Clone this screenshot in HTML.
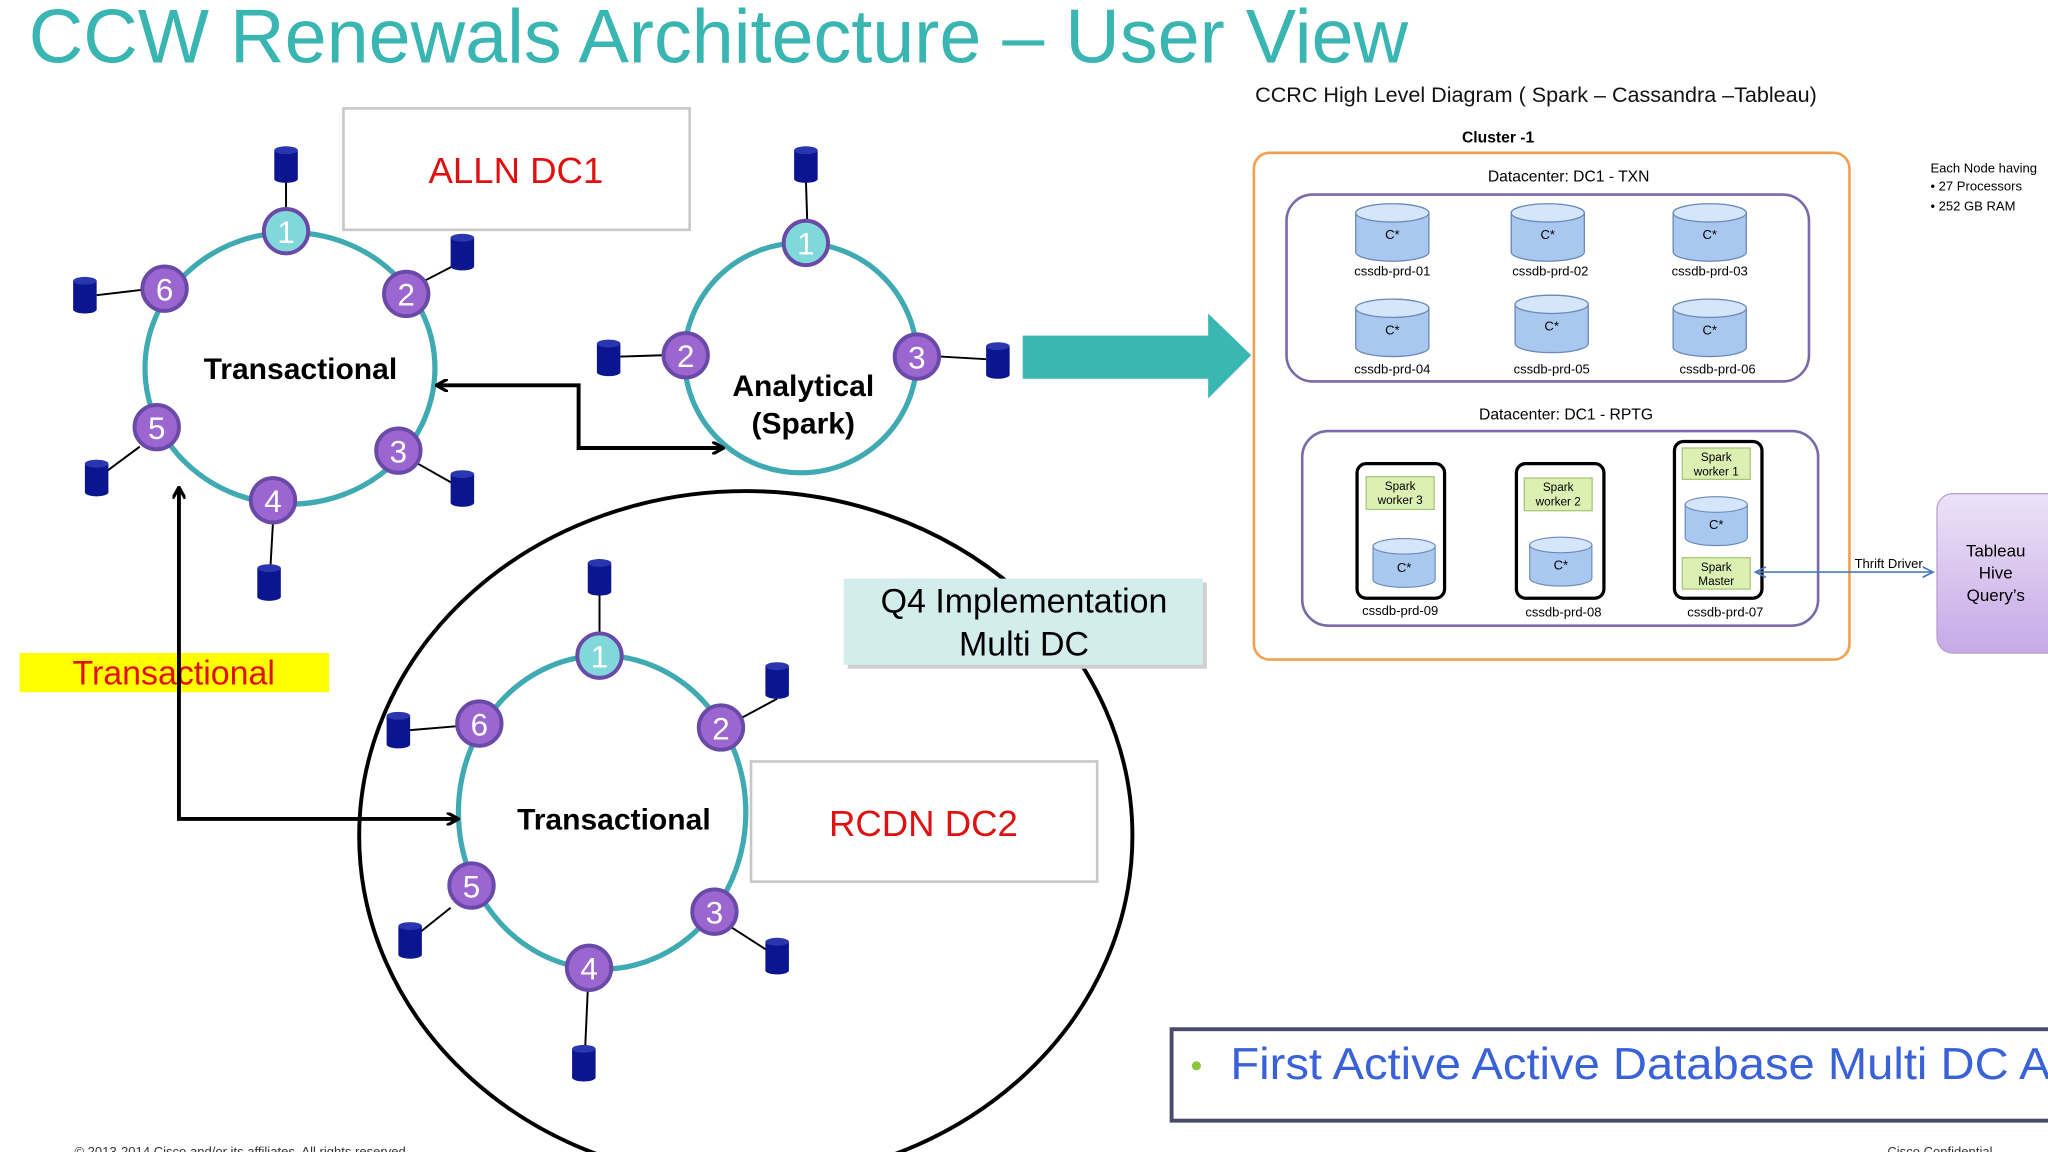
<!DOCTYPE html>
<html><head><meta charset="utf-8"><style>
html,body{margin:0;padding:0;background:#fff;width:2048px;height:1152px;overflow:hidden}
svg{display:block}
text{font-family:"Liberation Sans",sans-serif}
</style></head><body>
<svg width="2048" height="1152" viewBox="0 0 1568 882" xmlns="http://www.w3.org/2000/svg">
<defs>
<g id="cyl"><rect x="-9" y="-11" width="18" height="22" fill="#0c1590"/><ellipse cx="0" cy="11" rx="9" ry="3" fill="#0c1590"/><ellipse cx="0" cy="-11" rx="9" ry="3" fill="#2a36b0"/></g>
<g id="bc"><path d="M-28,-15 L-28,15 A28,7 0 0 0 28,15 L28,-15 Z" fill="#a9c8f0" stroke="#6a88b8"/><ellipse cx="0" cy="-15" rx="28" ry="7" fill="#d6e6fa" stroke="#6a88b8"/></g>
<linearGradient id="tab" x1="0" y1="0" x2="0" y2="1"><stop offset="0" stop-color="#ece3f7"/><stop offset="1" stop-color="#c6a9e6"/></linearGradient>
<marker id="ah" markerWidth="10" markerHeight="10" refX="8" refY="5" orient="auto-start-reverse" markerUnits="userSpaceOnUse"><path d="M0,0 L9,5 L0,10" fill="none" stroke="#000" stroke-width="2.5"/></marker>
<marker id="bh" markerWidth="10" markerHeight="10" refX="8" refY="5" orient="auto-start-reverse" markerUnits="userSpaceOnUse"><path d="M0,1 L8,5 L0,9" fill="none" stroke="#4a7ac0" stroke-width="1.3"/></marker>
</defs>

<text x="22" y="48" font-size="58" fill="#3ab6b2" textLength="1056" lengthAdjust="spacingAndGlyphs">CCW Renewals Architecture – User View</text>

<!-- Ring 1 -->
<ellipse cx="222" cy="282" rx="111" ry="104" fill="none" stroke="#40aab2" stroke-width="4"/>
<g stroke="#000" stroke-width="1.5">
<line x1="219" y1="137" x2="219" y2="160"/><line x1="354" y1="200" x2="325" y2="215"/>
<line x1="74" y1="226" x2="108" y2="222"/><line x1="80" y1="362" x2="107" y2="342"/>
<line x1="207" y1="435" x2="209" y2="400"/><line x1="350" y1="372" x2="320" y2="355"/>
</g>
<use href="#cyl" x="219" y="126"/><use href="#cyl" x="354" y="193"/><use href="#cyl" x="65" y="226"/>
<use href="#cyl" x="74" y="366"/><use href="#cyl" x="206" y="446"/><use href="#cyl" x="354" y="374"/>
<text x="230" y="290" font-size="23" font-weight="bold" text-anchor="middle">Transactional</text>

<rect x="263" y="83" width="265" height="93" fill="#fff" stroke="#c8c8c8" stroke-width="2"/>
<text x="395" y="140" font-size="28" fill="#e01010" text-anchor="middle">ALLN DC1</text>

<!-- Ring 2 -->
<ellipse cx="613" cy="274" rx="89" ry="88" fill="none" stroke="#40aab2" stroke-width="4"/>
<g stroke="#000" stroke-width="1.5"><line x1="617" y1="137" x2="618" y2="168"/><line x1="475" y1="273" x2="507" y2="272"/><line x1="755" y1="275" x2="720" y2="273"/></g>
<use href="#cyl" x="617" y="126"/><use href="#cyl" x="466" y="274"/><use href="#cyl" x="764" y="276"/>
<text x="615" y="303" font-size="23" font-weight="bold" text-anchor="middle">Analytical</text>
<text x="615" y="332" font-size="23" font-weight="bold" text-anchor="middle">(Spark)</text>

<path d="M783,257 L925,257 L925,240 L958,272 L925,305 L925,290 L783,290 Z" fill="#3bb7b2"/>

<polyline points="335,295 443,295 443,343 553,343" fill="none" stroke="#000" stroke-width="3" marker-start="url(#ah)" marker-end="url(#ah)"/>

<ellipse cx="571" cy="640" rx="296" ry="264" fill="none" stroke="#000" stroke-width="3"/>

<!-- Ring 3 -->
<ellipse cx="461" cy="622" rx="110" ry="120" fill="none" stroke="#40aab2" stroke-width="4"/>
<g stroke="#000" stroke-width="1.5">
<line x1="459" y1="453" x2="459" y2="485"/><line x1="595" y1="535" x2="567" y2="550"/>
<line x1="314" y1="559" x2="350" y2="556"/><line x1="320" y1="715" x2="345" y2="695"/>
<line x1="448" y1="803" x2="450" y2="758"/><line x1="588" y1="728" x2="560" y2="710"/>
</g>
<use href="#cyl" x="459" y="442"/><use href="#cyl" x="595" y="521"/><use href="#cyl" x="305" y="559"/>
<use href="#cyl" x="314" y="720"/><use href="#cyl" x="447" y="814"/><use href="#cyl" x="595" y="732"/>
<text x="470" y="635" font-size="23" font-weight="bold" text-anchor="middle">Transactional</text>

<g font-size="24" fill="#fff" text-anchor="middle">
<g stroke="#6a4aa8" stroke-width="3" fill="#9c66d0">
<circle cx="311" cy="225" r="17"/><circle cx="305" cy="345" r="17"/><circle cx="209" cy="383" r="17"/><circle cx="120" cy="327" r="17"/><circle cx="126" cy="221" r="17"/>
<circle cx="525" cy="272" r="17"/><circle cx="702" cy="273" r="17"/>
<circle cx="552" cy="557" r="17"/><circle cx="547" cy="698" r="17"/><circle cx="451" cy="741" r="17"/><circle cx="361" cy="678" r="17"/><circle cx="367" cy="554" r="17"/>
</g>
<g stroke="#6a4aa8" stroke-width="3" fill="#80d8da">
<circle cx="219" cy="177" r="17"/><circle cx="617" cy="186" r="17"/><circle cx="459" cy="502" r="17"/>
</g>
<text x="219" y="186">1</text><text x="311" y="234">2</text><text x="305" y="354">3</text><text x="209" y="392">4</text><text x="120" y="336">5</text><text x="126" y="230">6</text>
<text x="617" y="195">1</text><text x="525" y="281">2</text><text x="702" y="282">3</text>
<text x="459" y="511">1</text><text x="552" y="566">2</text><text x="547" y="707">3</text><text x="451" y="750">4</text><text x="361" y="687">5</text><text x="367" y="563">6</text>
</g>

<rect x="575" y="583" width="265" height="92" fill="#fff" stroke="#c8c8c8" stroke-width="2"/>
<text x="707" y="640" font-size="28" fill="#e01010" text-anchor="middle">RCDN DC2</text>

<rect x="649" y="446" width="275" height="66" fill="#cfcfcf"/>
<rect x="646" y="443" width="275" height="66" fill="#d3ecec"/>
<text x="784" y="469" font-size="26" text-anchor="middle">Q4 Implementation</text>
<text x="784" y="502" font-size="26" text-anchor="middle">Multi DC</text>

<rect x="15" y="500" width="237" height="30" fill="#ffff00"/>
<text x="133" y="524" font-size="26" fill="#e01010" text-anchor="middle">Transactional</text>

<polyline points="137,374 137,627 350,627" fill="none" stroke="#000" stroke-width="3" marker-start="url(#ah)" marker-end="url(#ah)"/>

<!-- Right diagram -->
<text x="961" y="78" font-size="16.5" fill="#111" textLength="430" lengthAdjust="spacingAndGlyphs">CCRC High Level Diagram ( Spark – Cassandra –Tableau)</text>
<text x="1147" y="109" font-size="12" font-weight="bold" text-anchor="middle">Cluster -1</text>
<rect x="960" y="117" width="456" height="388" rx="12" fill="#fff" stroke="#f2a050" stroke-width="2"/>
<text x="1201" y="139" font-size="12" text-anchor="middle">Datacenter: DC1 - TXN</text>
<rect x="985" y="149" width="400" height="143" rx="20" fill="#fff" stroke="#7a6aa8" stroke-width="2"/>
<use href="#bc" x="1066" y="178"/><use href="#bc" x="1185" y="178"/><use href="#bc" x="1309" y="178"/>
<use href="#bc" x="1066" y="251"/><use href="#bc" x="1188" y="248"/><use href="#bc" x="1309" y="251"/>
<g font-size="10" text-anchor="middle">
<text x="1066" y="183">C*</text><text x="1185" y="183">C*</text><text x="1309" y="183">C*</text>
<text x="1066" y="256">C*</text><text x="1188" y="253">C*</text><text x="1309" y="256">C*</text>
<text x="1066" y="211">cssdb-prd-01</text><text x="1187" y="211">cssdb-prd-02</text><text x="1309" y="211">cssdb-prd-03</text>
<text x="1066" y="286">cssdb-prd-04</text><text x="1188" y="286">cssdb-prd-05</text><text x="1315" y="286">cssdb-prd-06</text>
</g>
<text x="1199" y="321" font-size="12" text-anchor="middle">Datacenter: DC1 - RPTG</text>
<rect x="997" y="330" width="395" height="149" rx="20" fill="#fff" stroke="#7a6aa8" stroke-width="2"/>
<g fill="#fff" stroke="#000" stroke-width="2.5">
<rect x="1039" y="355" width="67" height="103" rx="7"/><rect x="1161" y="355" width="67" height="103" rx="7"/><rect x="1282" y="338" width="67" height="120" rx="7"/>
</g>
<g fill="#dcf0b4" stroke="#a8c878">
<rect x="1046" y="365" width="52" height="25"/><rect x="1167" y="366" width="52" height="25"/><rect x="1288" y="343" width="52" height="24"/><rect x="1288" y="427" width="52" height="24"/>
</g>
<use href="#bc" x="1075" y="431" transform="translate(1075,431) scale(0.85) translate(-1075,-431)"/>
<use href="#bc" x="1195" y="430" transform="translate(1195,430) scale(0.85) translate(-1195,-430)"/>
<use href="#bc" x="1314" y="399" transform="translate(1314,399) scale(0.85) translate(-1314,-399)"/>
<g font-size="9" text-anchor="middle">
<text x="1072" y="375">Spark</text><text x="1072" y="386">worker 3</text>
<text x="1193" y="376">Spark</text><text x="1193" y="387">worker 2</text>
<text x="1314" y="353">Spark</text><text x="1314" y="364">worker 1</text>
<text x="1314" y="437">Spark</text><text x="1314" y="448">Master</text>
</g>
<g font-size="10" text-anchor="middle">
<text x="1075" y="438">C*</text><text x="1195" y="436">C*</text><text x="1314" y="405">C*</text>
<text x="1072" y="471">cssdb-prd-09</text><text x="1197" y="472">cssdb-prd-08</text><text x="1321" y="472">cssdb-prd-07</text>
</g>
<line x1="1344" y1="438" x2="1480" y2="438" stroke="#4a7ac0" stroke-width="1.3" marker-start="url(#bh)" marker-end="url(#bh)"/>
<text x="1446" y="435" font-size="10" text-anchor="middle">Thrift Driver</text>
<rect x="1483" y="378" width="100" height="122" rx="12" fill="url(#tab)" stroke="#b8a0d8"/>
<g font-size="13" text-anchor="middle"><text x="1528" y="426">Tableau</text><text x="1528" y="443">Hive</text><text x="1528" y="460">Query’s</text></g>
<g font-size="10"><text x="1478" y="132">Each Node having</text><text x="1478" y="146">•  27 Processors</text><text x="1478" y="161">•  252 GB RAM</text></g>

<rect x="897" y="788" width="680" height="70" fill="#fff" stroke="#4a4a6a" stroke-width="3"/>
<circle cx="916" cy="816" r="3.5" fill="#8cc63e"/>
<text x="942" y="826" font-size="34" fill="#3a62d8" textLength="640" lengthAdjust="spacingAndGlyphs">First Active Active Database Multi DC Ar</text>

<text x="57" y="885" font-size="10" fill="#333">© 2013-2014  Cisco and/or its affiliates. All rights reserved.</text>
<text x="1445" y="885" font-size="10" fill="#333">Cisco Confidential</text>
</svg>
</body></html>
